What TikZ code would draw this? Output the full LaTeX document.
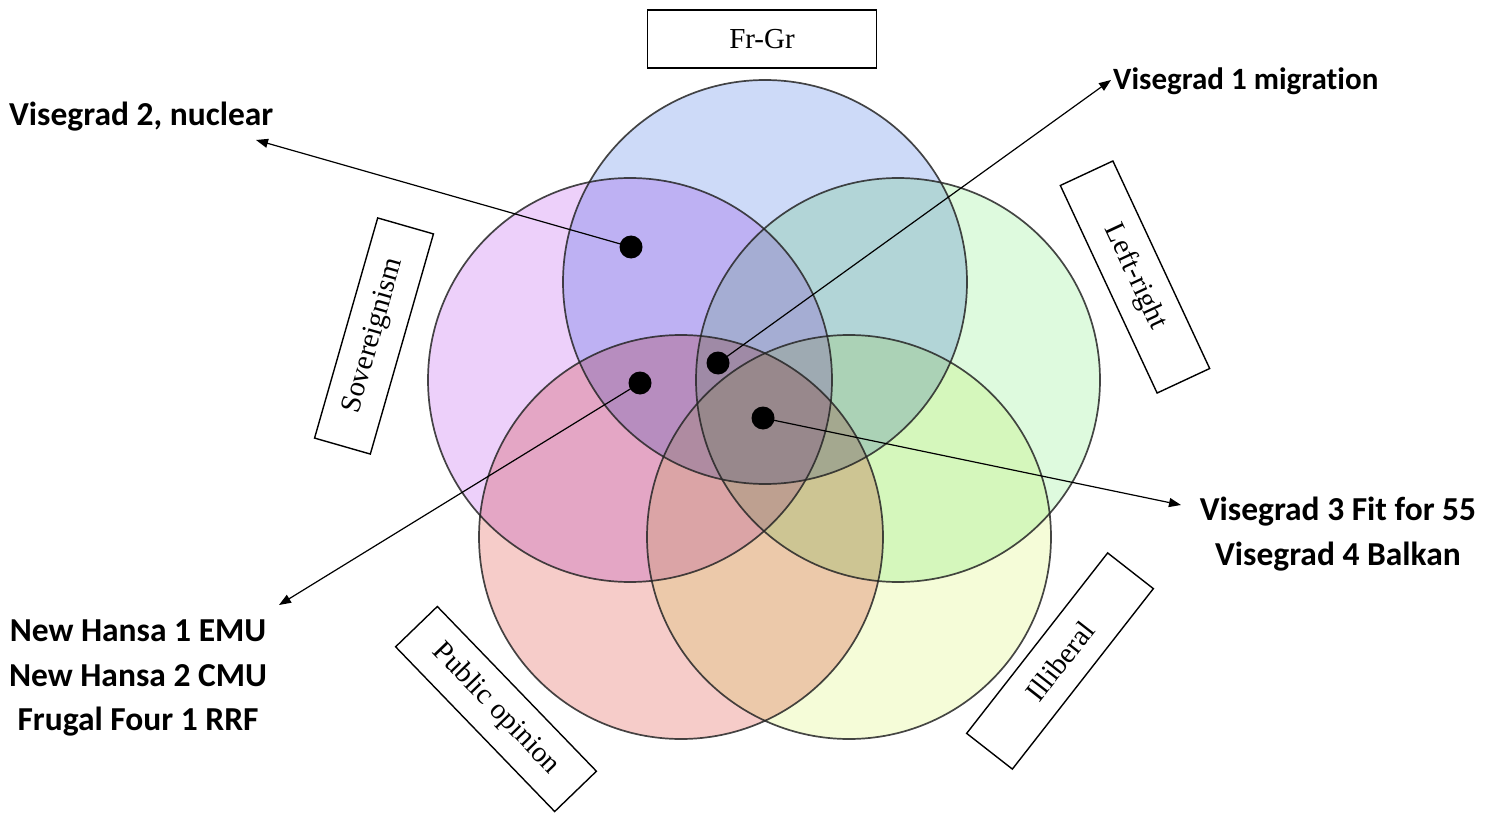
\documentclass[tikz,border=0pt]{standalone}
\usepackage{fontspec}
\setmainfont{Liberation Serif}
\newfontfamily\lblfont[Ligatures=NoCommon]{Carlito}
\usetikzlibrary{arrows.meta}
\definecolor{cblue}{RGB}{205,218,248}
\definecolor{cpurple}{RGB}{237,208,250}
\definecolor{cgreen}{RGB}{222,250,222}
\definecolor{cred}{RGB}{246,204,201}
\definecolor{cyellow}{RGB}{245,252,216}
\tikzset{
  setfill/.style={fill=#1, draw=none},
  setline/.style={draw=black!85, line width=1.7pt, draw opacity=0.85},
  dimbox/.style={draw=black, line width=1.4pt, fill=white, minimum width=229pt, minimum height=58pt, inner sep=0pt, font=\fontsize{29}{32}\selectfont},
  dot/.style={circle, fill=black, minimum size=23pt, inner sep=0pt},
  arr/.style={line width=1.2pt, -{Triangle[length=12pt,width=9pt]}},
  lbl/.style={font=\lblfont\bfseries\fontsize{33.5}{44.5}\selectfont, inner sep=0pt, align=center}
}
\begin{document}
\begin{tikzpicture}[x=1pt,y=-1pt]
\useasboundingbox (0,0) rectangle (1499,813);
% circles (pentagon around 764.5,423)
\coordinate (cB) at (765,282);
\coordinate (cP) at (630,380);
\coordinate (cG) at (898,380);
\coordinate (cR) at (681,537);
\coordinate (cY) at (849,537);
\begin{scope}[blend group=multiply]
\fill[setfill=cblue] (cB) circle[radius=202];
\fill[setfill=cpurple] (cP) circle[radius=202];
\fill[setfill=cgreen] (cG) circle[radius=202];
\fill[setfill=cred] (cR) circle[radius=202];
\fill[setfill=cyellow] (cY) circle[radius=202];
\end{scope}
\draw[setline] (cB) circle[radius=202];
\draw[setline] (cP) circle[radius=202];
\draw[setline] (cG) circle[radius=202];
\draw[setline] (cR) circle[radius=202];
\draw[setline] (cY) circle[radius=202];
% dimension boxes
\node[dimbox] (frgr) at (762,39) {Fr-Gr};
\node[dimbox, rotate=74] (sov) at (374,336) {Sovereignism};
\node[dimbox, rotate=-65] (lr) at (1135,277) {Left-right};
\node[dimbox, rotate=-46] (po) at (496,709) {Public opinion};
\node[dimbox, rotate=52] (ill) at (1060,661) {Illiberal};
% dots
\node[dot] (d2) at (631,247) {};
\node[dot] (d1) at (718,363) {};
\node[dot] (dh) at (640,383) {};
\node[dot] (d3) at (763,418) {};
% arrow ends
\coordinate (e2) at (256,140);
\coordinate (e1) at (1111,80);
\coordinate (eh) at (279,605);
\coordinate (e3) at (1181,505);
\draw[arr] (d2.center) -- (e2);
\draw[arr] (d1.center) -- (e1);
\draw[arr] (dh.center) -- (eh);
\draw[arr] (d3.center) -- (e3);
% labels
\node[lbl, anchor=west] (l2) at (9,117) {Visegrad 2, nuclear};
\node[lbl, anchor=west, font=\lblfont\bfseries\fontsize{31}{40}\selectfont] (l1) at (1113,81) {Visegrad 1 migration};
\node[lbl] (l3) at (1338,534) {Visegrad 3 Fit for 55\\Visegrad 4 Balkan};
\node[lbl] (lh) at (138,678) {New Hansa 1 EMU\\New Hansa 2 CMU\\Frugal Four 1 RRF};
\end{tikzpicture}
\end{document}
